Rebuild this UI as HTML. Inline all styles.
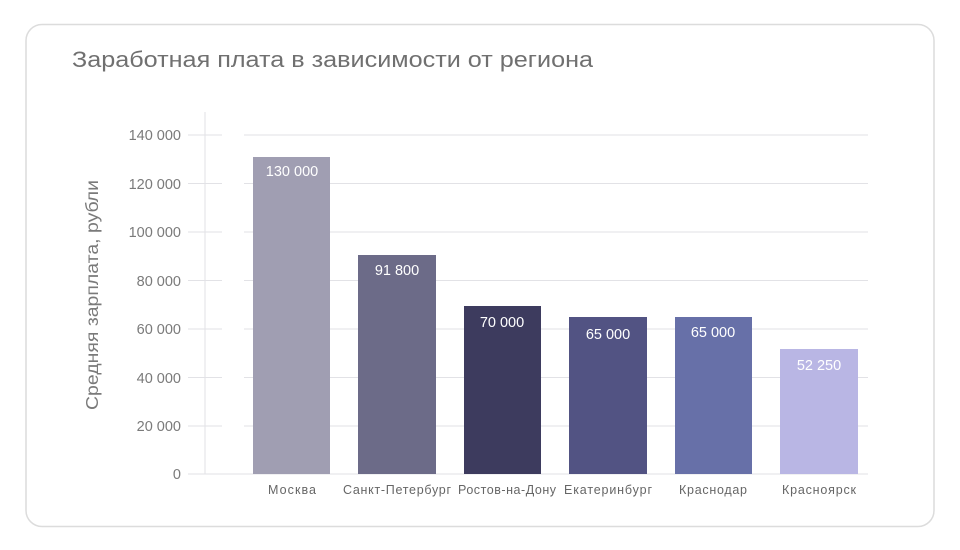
<!DOCTYPE html>
<html><head><meta charset="utf-8"><style>
body{margin:0;background:#fff;width:960px;height:550px;overflow:hidden}
svg{display:block;font-family:"Liberation Sans",sans-serif}
</style></head><body>
<svg width="960" height="550" viewBox="0 0 960 550">
<rect x="26" y="24.5" width="908" height="502" rx="16" fill="#fff" stroke="#dcdcdc" stroke-width="1.5"/>
<text x="72" y="67" font-size="22" fill="#707070" textLength="521" lengthAdjust="spacingAndGlyphs">Заработная плата в зависимости от региона</text>
<g stroke="#e2e2e6" stroke-width="1">
<line x1="188" y1="135" x2="222" y2="135"/><line x1="244" y1="135" x2="868" y2="135"/>
<line x1="188" y1="183.5" x2="222" y2="183.5"/><line x1="244" y1="183.5" x2="868" y2="183.5"/>
<line x1="188" y1="232" x2="222" y2="232"/><line x1="244" y1="232" x2="868" y2="232"/>
<line x1="188" y1="280.5" x2="222" y2="280.5"/><line x1="244" y1="280.5" x2="868" y2="280.5"/>
<line x1="188" y1="329" x2="222" y2="329"/><line x1="244" y1="329" x2="868" y2="329"/>
<line x1="188" y1="377.5" x2="222" y2="377.5"/><line x1="244" y1="377.5" x2="868" y2="377.5"/>
<line x1="188" y1="426" x2="222" y2="426"/><line x1="244" y1="426" x2="868" y2="426"/>
<line x1="188" y1="474" x2="868" y2="474"/>
<line x1="205" y1="112" x2="205" y2="474"/>
</g>
<g font-size="14.5" fill="#7a7a7a" text-anchor="end">
<text x="181" y="140">140 000</text><text x="181" y="189">120 000</text>
<text x="181" y="237">100 000</text><text x="181" y="286">80 000</text>
<text x="181" y="334">60 000</text><text x="181" y="383">40 000</text>
<text x="181" y="431">20 000</text><text x="181" y="479">0</text>
</g>
<text transform="translate(98,295) rotate(-90)" font-size="17.5" fill="#7a7a7a" text-anchor="middle" textLength="230" lengthAdjust="spacingAndGlyphs">Средняя зарплата, рубли</text>
<rect x="253" y="157" width="77" height="317" fill="#a09eb2"/>
<rect x="358" y="255" width="78" height="219" fill="#6c6b88"/>
<rect x="464" y="306" width="77" height="168" fill="#3d3b5e"/>
<rect x="569" y="317" width="78" height="157" fill="#525383"/>
<rect x="675" y="317" width="77" height="157" fill="#6770a8"/>
<rect x="780" y="349" width="78" height="125" fill="#b9b6e4"/>
<g font-size="14.5" fill="#fff" text-anchor="middle">
<text x="292" y="176">130 000</text><text x="397" y="275">91 800</text>
<text x="502" y="327">70 000</text><text x="608" y="339">65 000</text>
<text x="713" y="337">65 000</text><text x="819" y="370">52 250</text>
</g>
<g font-size="12.5" fill="#666" text-anchor="middle" lengthAdjust="spacingAndGlyphs">
<text x="292" y="494" textLength="48">Москва</text><text x="397" y="494" textLength="108">Санкт-Петербург</text>
<text x="507" y="494" textLength="98">Ростов-на-Дону</text><text x="608" y="494" textLength="88">Екатеринбург</text>
<text x="713" y="494" textLength="68">Краснодар</text><text x="819" y="494" textLength="74">Красноярск</text>
</g>
</svg>
</body></html>
